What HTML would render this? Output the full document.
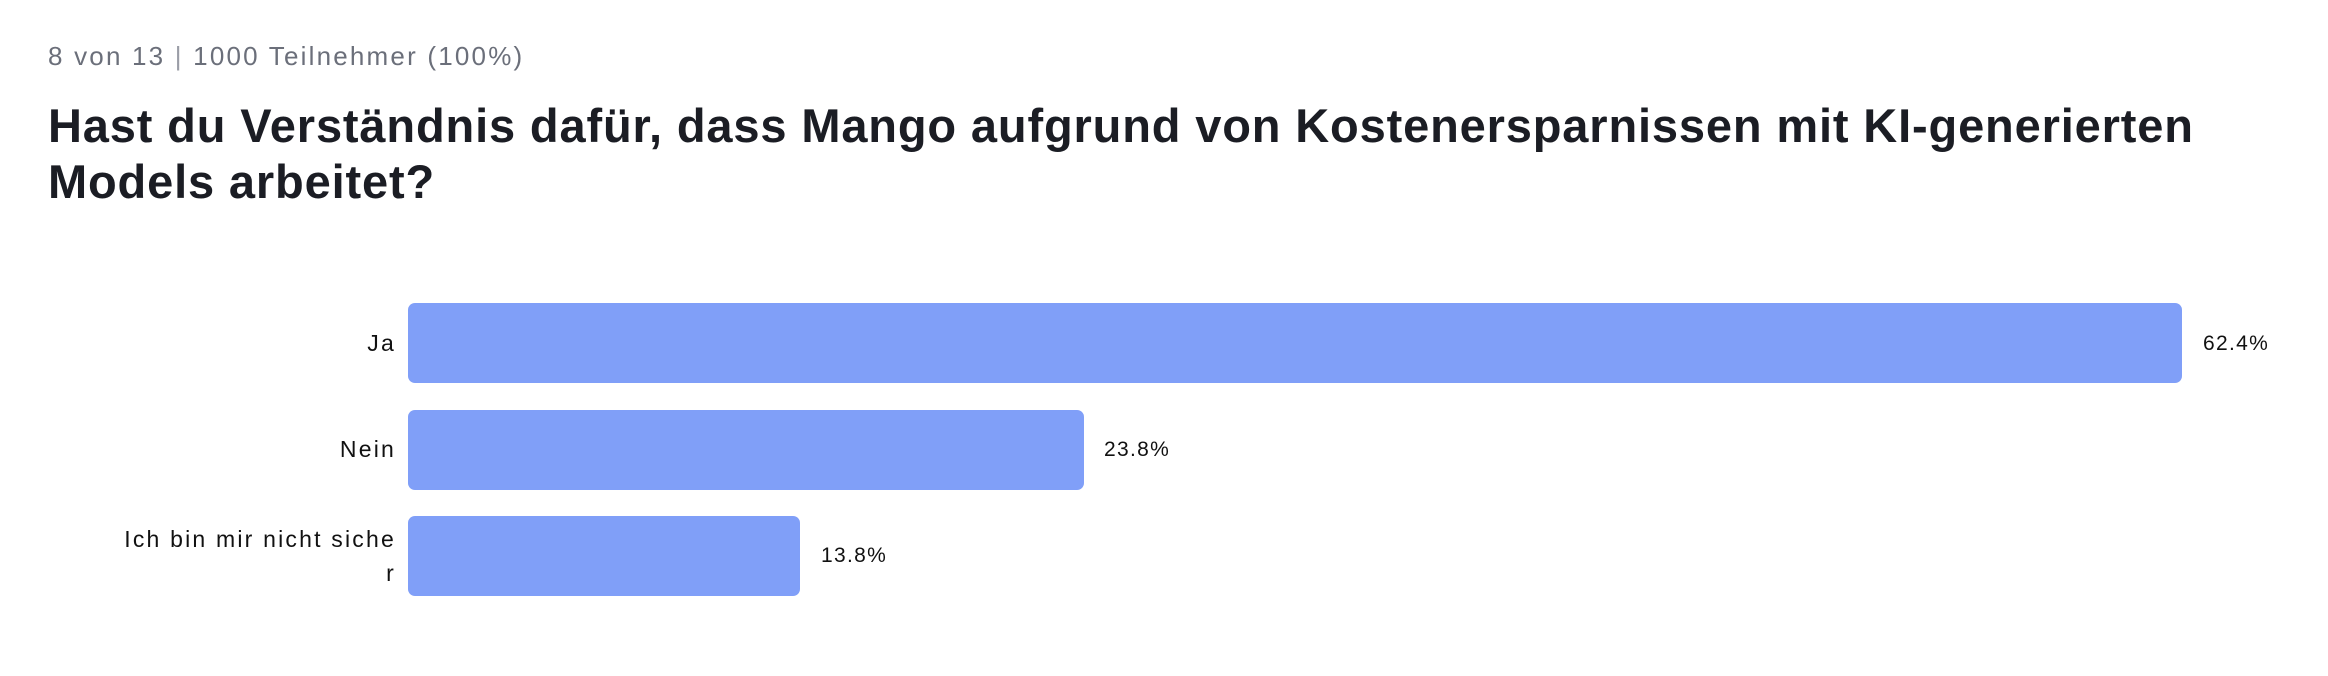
<!DOCTYPE html>
<html><head><meta charset="utf-8"><style>
html,body{margin:0;padding:0;background:#fff;width:2328px;height:676px;overflow:hidden;font-family:"Liberation Sans",sans-serif;}
.sub{position:absolute;left:48px;top:41px;font-size:26px;color:#6b6f7a;white-space:nowrap;letter-spacing:2.2px}
.title{position:absolute;left:48px;top:98px;font-size:47px;font-weight:bold;color:#1b1d24;line-height:56px;white-space:nowrap;letter-spacing:0.85px}
.bar{position:absolute;left:408px;height:80px;background:#809ff8;border-radius:7px}
.val{position:absolute;font-size:21px;color:#111;line-height:24px;letter-spacing:1.3px}
.lab{position:absolute;right:1932px;font-size:23px;color:#111;text-align:right;line-height:34px;white-space:nowrap;letter-spacing:2.2px}
</style></head><body>
<div class="sub">8 von 13 <span style="color:#9a9da6">|</span> 1000 Teilnehmer (100%)</div>
<div class="title">Hast du Verständnis dafür, dass Mango aufgrund von Kostenersparnissen mit KI-generierten<br>Models arbeitet?</div>
<div class="bar" style="top:303px;width:1774px"></div>
<div class="bar" style="top:410px;width:676px"></div>
<div class="bar" style="top:516px;width:392px"></div>
<div class="val" style="left:2203px;top:332px">62.4%</div>
<div class="val" style="left:1104px;top:438px">23.8%</div>
<div class="val" style="left:821px;top:544px">13.8%</div>
<div class="lab" style="top:326px">Ja</div>
<div class="lab" style="top:432px">Nein</div>
<div class="lab" style="top:522px">Ich bin mir nicht siche<br>r</div>
</body></html>
